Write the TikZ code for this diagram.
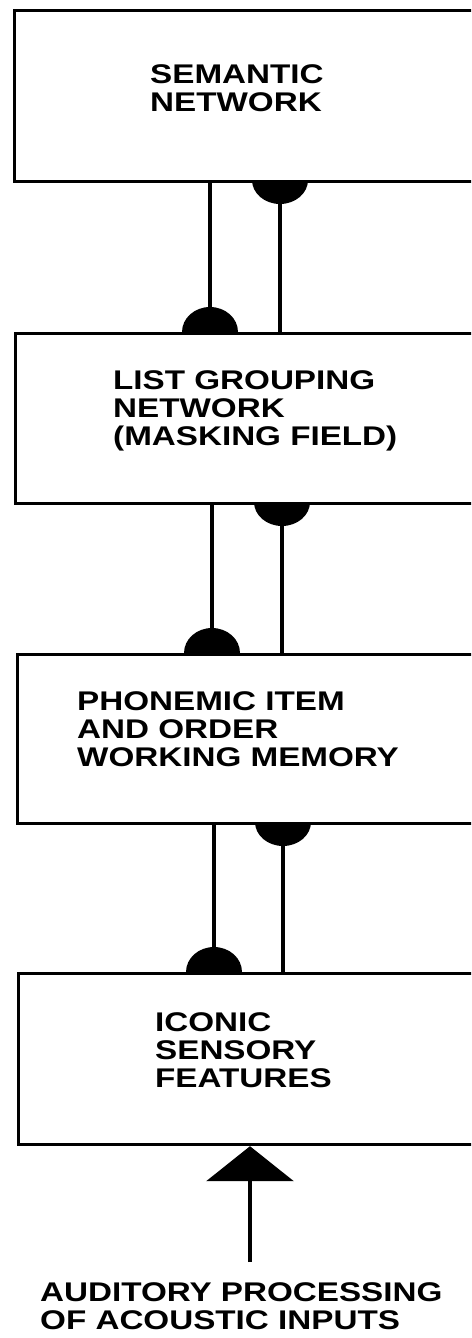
\documentclass[tikz,border=0pt]{standalone}
\usepackage{fontspec}
\usetikzlibrary{arrows.meta}
\newfontfamily\lblfont{Liberation Sans}[FakeStretch=1.23]
\begin{document}
\begin{tikzpicture}[x=1pt,y=-1pt,
  stage/.style={draw, line width=3.2pt, anchor=north west, inner sep=0pt,
                minimum width=470pt},
  lbl/.style={font=\lblfont\bfseries\fontsize{27}{28}\selectfont,
              align=left, anchor=north west, inner sep=0pt},
  wire/.style={line width=3.2pt},
  knob/.style={fill=black},
  input/.style={line width=4pt, -{Triangle[width=87pt,length=35pt]}}]
\useasboundingbox (0,0) rectangle (471,1338);
\clip (0,0) rectangle (471,1338);

% the four processing stages
\node[stage, minimum height=171pt] (sem) at (13,9)   {};
\node[stage, minimum height=170pt] (lgn) at (14,332) {};
\node[stage, minimum height=169pt] (pho) at (16,653) {};
\node[stage, minimum height=171pt] (ico) at (17,972) {};

% stage labels
\node[lbl] (semT) at (150,64)  {SEMANTIC\\NETWORK};
\node[lbl] (lgnT) at (113,370) {LIST GROUPING\\NETWORK\\(MASKING FIELD)};
\node[lbl] (phoT) at (77,691)  {PHONEMIC ITEM\\AND ORDER\\WORKING MEMORY};
\node[lbl] (icoT) at (155,1012){ICONIC\\SENSORY\\FEATURES};
\node[lbl] (audT) at (40,1282) {AUDITORY PROCESSING\\OF ACOUSTIC INPUTS};

% attachment points of the pathways on the box borders
\coordinate (semD) at (280,180);  % top-down, leaving semantic network
\coordinate (lgnU) at (210,332);  % bottom-up, entering list grouping
\coordinate (lgnD) at (282,502);
\coordinate (phoU) at (212,653);
\coordinate (phoD) at (283,822);
\coordinate (icoU) at (214,972);
\coordinate (tail) at (250,1262);

% pathways between adjacent stages
\draw[wire] (lgnU |- sem.south) -- (lgnU);
\draw[wire] (semD) -- (semD |- lgn.north);
\draw[wire] (phoU |- lgn.south) -- (phoU);
\draw[wire] (lgnD) -- (lgnD |- pho.north);
\draw[wire] (icoU |- pho.south) -- (icoU);
\draw[wire] (phoD) -- (phoD |- ico.north);

% hemispherical synaptic knobs (y axis points down)
\foreach \c in {lgnU, phoU, icoU}
  \fill[knob] (\c) ++(-28,0) arc[start angle=180, end angle=0, x radius=28pt, y radius=25pt] -- cycle;
\foreach \c in {semD, lgnD, phoD}
  \fill[knob] (\c) ++(-28,0) arc[start angle=180, end angle=360, x radius=28pt, y radius=24pt] -- cycle;

% acoustic input
\draw[input] (tail) -- (tail |- ico.south);
\end{tikzpicture}
\end{document}
